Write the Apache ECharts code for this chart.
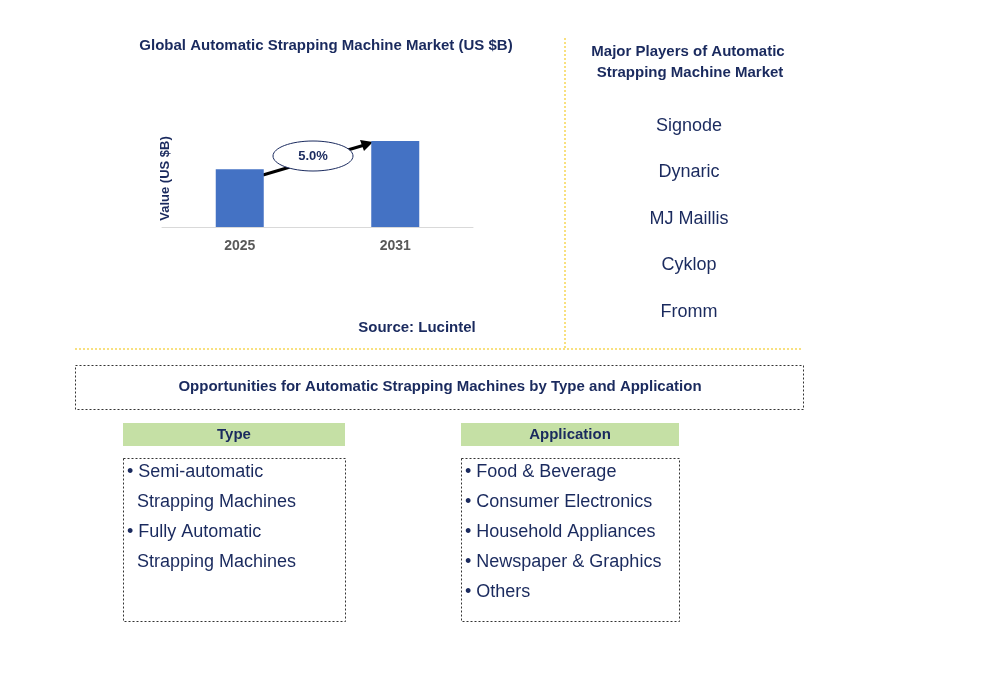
<!DOCTYPE html><html><head><meta charset="utf-8"><script src="https://cdn.jsdelivr.net/npm/echarts@6/dist/echarts.min.js"></script>
<style>html,body{margin:0;padding:0;background:#fff}#c{width:996px;height:682px}</style></head><body><div id="c"></div><script>
const categories=['2025','2031'];
const values=[1.0,1.49];
const cagr='5.0%';
const players=['Signode','Dynaric','MJ Maillis','Cyklop','Fromm'];
const typeItems=['• Semi-automatic','  Strapping Machines','• Fully Automatic','  Strapping Machines'];
const appItems=['• Food & Beverage','• Consumer Electronics','• Household Appliances','• Newspaper & Graphics','• Others'];
const navy='#1a2a5e', F='Arial, Liberation Sans, sans-serif';
const chart=echarts.init(document.getElementById('c'));
const g=[];
function t(x,y,s,size,bold,align,color){g.push({type:'text',x:x,y:y,style:{text:s,fill:color||navy,font:(bold?'bold ':'')+size+'px '+F,textAlign:align||'left',textVerticalAlign:'middle'}});}
t(326,46,'Global Automatic Strapping Machine Market (US $B)',15,true,'center');
t(688,52,'Major Players of Automatic',15,true,'center');
t(690,73,'Strapping Machine Market',15,true,'center');
players.forEach((p,i)=>t(689,126+i*46.5,p,18,false,'center'));
t(417,328,'Source: Lucintel',15,true,'center');
g.push({type:'line',shape:{x1:565,y1:38,x2:565,y2:348},style:{stroke:'#f2c200',lineWidth:1,lineDash:[2,2]}});
g.push({type:'line',shape:{x1:75,y1:349,x2:803,y2:349},style:{stroke:'#f2c200',lineWidth:1,lineDash:[2,2]}});
g.push({type:'rect',shape:{x:75.5,y:365.5,width:728,height:44},style:{fill:'none',stroke:'#333',lineDash:[2,2]}});
t(440,387,'Opportunities for Automatic Strapping Machines by Type and Application',15,true,'center');
[[123,222,'Type',typeItems],[461,218,'Application',appItems]].forEach(([x,w,h,items])=>{
 g.push({type:'rect',shape:{x:x,y:423,width:w,height:23},style:{fill:'#c5e0a5'}});
 t(x+w/2,435,h,15,true,'center');
 g.push({type:'rect',shape:{x:x+0.5,y:458.5,width:w,height:163},style:{fill:'none',stroke:'#333',lineDash:[2,2]}});
 items.forEach((s,i)=>t(x+4,472+i*30,s,18,false,'left'));
});
g.push({type:'line',shape:{x1:263,y1:175,x2:368,y2:144},style:{stroke:'#000',lineWidth:3}});
g.push({type:'polygon',shape:{points:[[373,142],[360,140],[364,151]]},style:{fill:'#000'}});
g.push({type:'ellipse',shape:{cx:313,cy:156,rx:40,ry:15},style:{fill:'#fff',stroke:'#1a2a5e',lineWidth:1}});
t(313,156,cagr,13,true,'center','#1a2a5e');
chart.setOption({animation:false,
grid:{left:162,width:311,top:130,height:97},
xAxis:{type:'category',data:categories,axisTick:{show:false},axisLine:{lineStyle:{color:'#d9d9d9'}},axisLabel:{color:'#595959',fontWeight:'bold',fontSize:14,fontFamily:F,margin:12}},
yAxis:{type:'value',min:0,max:1.68,show:true,axisLabel:{show:false},splitLine:{show:false},axisLine:{show:false},axisTick:{show:false},name:'Value (US $B)',nameLocation:'middle',nameGap:-10,nameTextStyle:{color:navy,fontWeight:'bold',fontSize:13,fontFamily:F}},
series:[{type:'bar',data:values,barWidth:48,itemStyle:{color:'#4472c4'}}],
graphic:g});
</script></body></html>
